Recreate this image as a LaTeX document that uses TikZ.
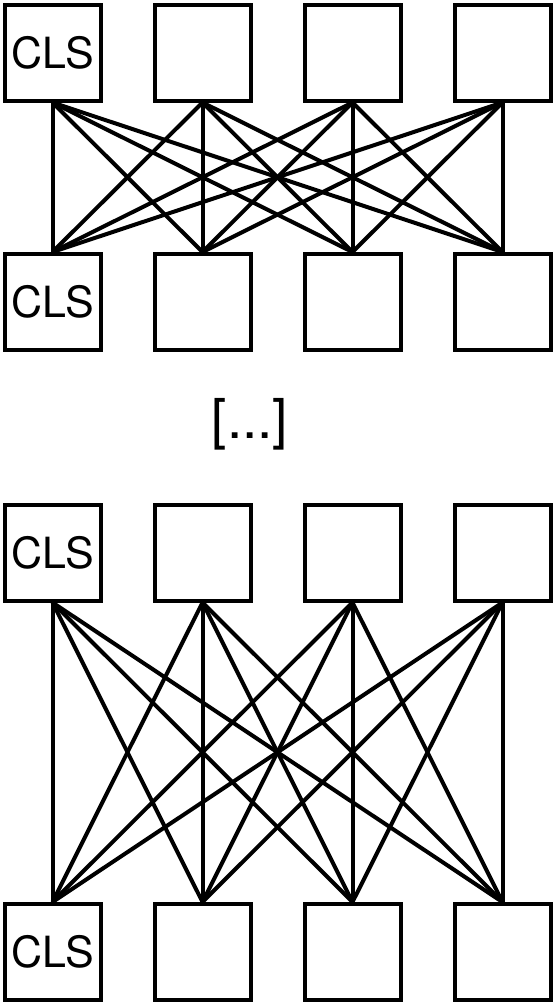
\documentclass[tikz,border=0pt]{standalone}
\usepackage{fontspec}
\setmainfont{TeX Gyre Heros}
\usetikzlibrary{positioning}

\begin{document}
\begin{tikzpicture}[
  x=1pt,y=-1pt,
  line width=4pt,
  tok/.style={draw, minimum size=96pt, inner sep=0pt,
              font=\fontsize{43}{48}\selectfont},
  link/.style={line width=4pt},
]
\useasboundingbox (0,0) rectangle (555,1005);

% ---------------- row positions ----------------
\def\yA{52.5}
\def\yB{302}
\def\yC{552.5}
\def\yD{952}

% ---------------- first layer pair ----------------
\node[tok] (a1) at (52.5,\yA)  {CLS};
\node[tok] (a2) at (202.5,\yA) {};
\node[tok] (a3) at (352.5,\yA) {};
\node[tok] (a4) at (502.5,\yA) {};

\node[tok] (b1) at (52.5,\yB)  {CLS};
\node[tok] (b2) at (202.5,\yB) {};
\node[tok] (b3) at (352.5,\yB) {};
\node[tok] (b4) at (502.5,\yB) {};

% skipped layers
\node[font=\fontsize{55}{60}\selectfont] (dots) at (250,424) {[...]};

% ---------------- last layer pair ----------------
\node[tok] (c1) at (52.5,\yC)  {CLS};
\node[tok] (c2) at (202.5,\yC) {};
\node[tok] (c3) at (352.5,\yC) {};
\node[tok] (c4) at (502.5,\yC) {};

\node[tok] (d1) at (52.5,\yD)  {CLS};
\node[tok] (d2) at (202.5,\yD) {};
\node[tok] (d3) at (352.5,\yD) {};
\node[tok] (d4) at (502.5,\yD) {};

% every token attends to every token
\foreach \i in {1,...,4}
  \foreach \j in {1,...,4} {
    \draw[link] (a\i.south) -- (b\j.north);
    \draw[link] (c\i.south) -- (d\j.north);
  }

\end{tikzpicture}
\end{document}
